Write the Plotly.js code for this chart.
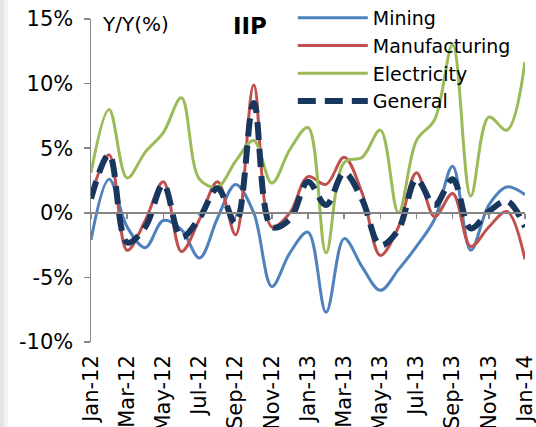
<!DOCTYPE html>
<html>
<head>
<meta charset="utf-8">
<script src="https://cdn.plot.ly/plotly-3.0.1.min.js"></script>
<style>html,body{margin:0;padding:0;background:#fff;}#chart{width:536px;height:427px;}</style>
</head>
<body>
<div id="chart"></div>
<script>
const months = ["Jan-12","Feb-12","Mar-12","Apr-12","May-12","Jun-12","Jul-12","Aug-12","Sep-12","Oct-12","Nov-12","Dec-12",
                "Jan-13","Feb-13","Mar-13","Apr-13","May-13","Jun-13","Jul-13","Aug-13","Sep-13","Oct-13","Nov-13","Dec-13","Jan-14"];
const mining        = [-2.1, 2.6, -1.1, -2.7, -0.6, -1.3, -3.5, -0.4, 2.2, 0.0, -5.7, -3.1, -1.5, -7.7, -2.0, -4.2, -6.0, -4.4, -2.6, -0.5, 3.6, -2.9, 0.6, 2.0, 1.4];
const manufacturing = [1.3, 4.5, -2.9, -0.6, 2.4, -3.0, -0.5, 2.4, -1.7, 9.9, -1.1, 0.0, 2.8, 2.2, 4.3, 1.5, -3.3, -1.1, 3.1, -0.3, 1.5, -2.6, -1.1, 0.1, -3.6];
const electricity   = [3.1, 8.0, 2.7, 4.7, 6.2, 8.9, 2.6, 2.0, 4.0, 5.6, 2.3, 4.9, 6.6, -3.1, 3.9, 4.3, 6.4, 0.0, 5.6, 7.2, 13.0, 1.3, 7.4, 6.4, 11.7];
const general       = [1.1, 4.5, -2.3, -1.1, 2.2, -1.9, -0.4, 1.9, -0.8, 8.5, -1.1, -0.5, 2.4, 0.6, 3.1, 1.0, -2.5, -1.3, 2.6, 0.6, 2.6, -1.2, 0.1, 0.9, -1.1];
const yTickVals = [-10, -5, 0, 5, 10, 15];
const yTickText = ["-10%", "-5%", "0%", "5%", "10%", "15%"];
const xLabels = months.filter((m, i) => i % 2 === 0);

const FONT = "DejaVu Sans, Verdana, sans-serif";
function series(name, y, color, width, dash) {
  return {type: "scatter", mode: "lines", name: name, x: months, y: y,
          line: {color: color, width: width, shape: "spline", smoothing: 1, dash: dash || "solid"},
          hoverinfo: "skip"};
}
const traces = [
  series("Mining", mining, "#4F81BD", 3),
  series("Manufacturing", manufacturing, "#C0504D", 3),
  series("Electricity", electricity, "#9BBB59", 3),
  series("General", general, "#17375E", 6, "18px,9px"),
  {type: "scatter", mode: "lines", x: months, y: months.map(() => null), xaxis: "x2",
   showlegend: false, hoverinfo: "skip", line: {color: "rgba(0,0,0,0)"}}
];
const W = 434, H = 323;
const layout = {
  width: 536, height: 427,
  margin: {l: 91, r: 11, t: 19, b: 85, autoexpand: false},
  paper_bgcolor: "#fff", plot_bgcolor: "#fff",
  font: {family: FONT, color: "#000"},
  showlegend: true,
  legend: {x: 0.465, y: 1.062, xanchor: "left", yanchor: "top", bgcolor: "rgba(0,0,0,0)",
           font: {family: FONT, size: 19, color: "#000"}, itemwidth: 70, tracegroupgap: 0},
  xaxis: {type: "category", range: [0, 24], categoryorder: "array", categoryarray: months,
          tickmode: "array", tickvals: xLabels, ticktext: xLabels, tickangle: -90,
          showgrid: false, zeroline: false, showline: false, ticks: "", ticklabelstandoff: 8,
          automargin: false,
          tickfont: {family: FONT, size: 21, color: "#000"}},
  xaxis2: {type: "category", range: [0, 24], overlaying: "x", anchor: "free", position: 0.4,
           categoryorder: "array", categoryarray: months,
           tickmode: "array", tickvals: xLabels, showticklabels: false,
           ticks: "outside", ticklen: 5, tickcolor: "#868686", tickwidth: 1.5,
           showline: true, linecolor: "#868686", linewidth: 2, showgrid: false, zeroline: false},
  yaxis: {range: [-10, 15], tickmode: "array", tickvals: yTickVals, ticktext: yTickText,
          showgrid: false, zeroline: false, showline: true, linecolor: "#868686", linewidth: 1.5,
          ticks: "outside", ticklen: 6, tickcolor: "#868686", tickwidth: 1.5, ticklabelstandoff: 6,
          automargin: false,
          tickfont: {family: FONT, size: 21, color: "#000"}},
  shapes: [
    {type: "rect", xref: "paper", yref: "paper", x0: -91 / W, x1: -87 / W, y0: -85 / H, y1: 1 + 19 / H,
     fillcolor: "#e4e4e4", line: {width: 0}, layer: "below"},
    {type: "rect", xref: "paper", yref: "paper", x0: -87 / W, x1: -83 / W, y0: -85 / H, y1: 1 + 19 / H,
     fillcolor: "#f2f2f2", line: {width: 0}, layer: "below"}
  ],
  annotations: [
    {xref: "paper", yref: "paper", x: 0.02, y: 0.985, xanchor: "left", yanchor: "middle",
     text: "Y/Y(%)", showarrow: false, font: {family: FONT, size: 20, color: "#000"}},
    {xref: "paper", yref: "paper", x: 0.322, y: 0.978, xanchor: "left", yanchor: "middle",
     text: "<b>IIP</b>", showarrow: false, font: {family: FONT, size: 23, color: "#000", weight: "bold"}}
  ]
};
Plotly.newPlot("chart", traces, layout, {displayModeBar: false, staticPlot: true});
</script>
</body>
</html>
